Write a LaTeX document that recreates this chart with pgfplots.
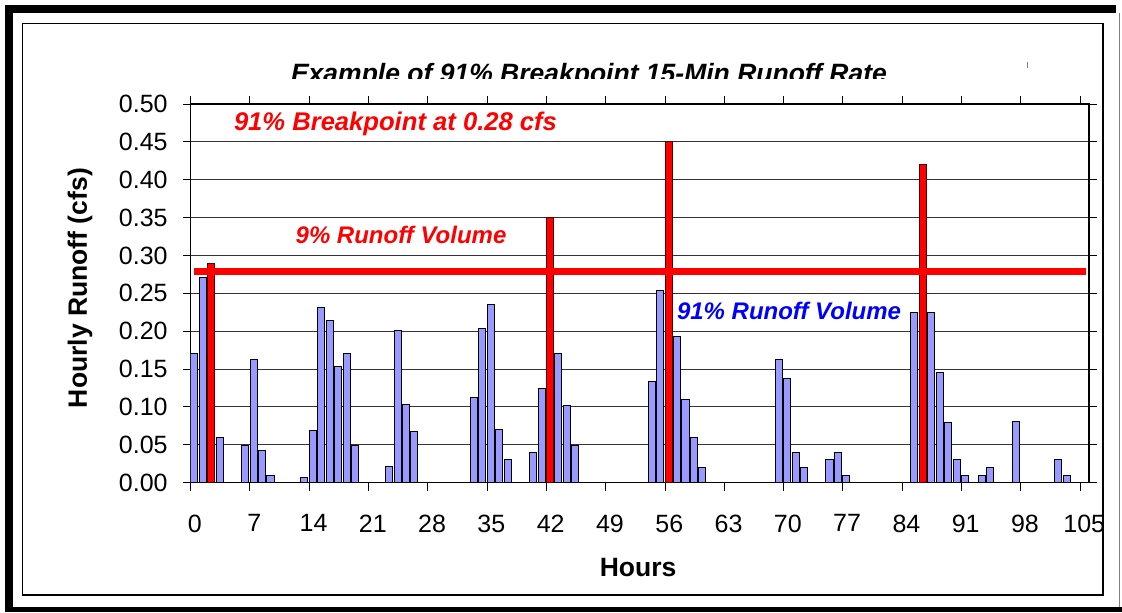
\documentclass[border=0pt]{standalone}
\usepackage{fontspec}
\setmainfont{Liberation Sans}
\usepackage{pgfplots}
\pgfplotsset{compat=1.18}
\usepackage{pgfplotstable}
\definecolor{barblue}{HTML}{9999FF}

\pgfplotstableread{
k v
0 0.170
1 0.271
3 0.060
6 0.049
7 0.163
8 0.043
9 0.010
13 0.007
14 0.069
15 0.231
16 0.214
17 0.154
18 0.170
19 0.049
23 0.022
24 0.201
25 0.103
26 0.068
33 0.112
34 0.204
35 0.235
36 0.070
37 0.030
40 0.040
41 0.125
43 0.171
44 0.102
45 0.049
54 0.133
55 0.254
57 0.193
58 0.110
59 0.060
60 0.020
69 0.163
70 0.137
71 0.040
72 0.020
75 0.030
76 0.040
77 0.010
85 0.225
87 0.225
88 0.146
89 0.080
90 0.030
91 0.010
93 0.010
94 0.020
97 0.081
102 0.030
103 0.010
}\bluedata

\pgfplotstableread{
k v
2 0.290
42 0.350
56 0.450
86 0.420
}\reddata

\begin{document}
\begin{tikzpicture}[x=0.5pt,y=0.5pt]
\path[use as bounding box] (0,0) rectangle (1122,612);
% outer frame
\fill[black] (5,0) rectangle (13,607);
\fill[black] (5,599) rectangle (1116,607);
\fill[black] (5,0) rectangle (1122,5.3);
\draw[gray, line width=0.5pt] (1119.5,5) -- (1119.5,599);
\draw[black, line width=0.65pt] (22.7,17) rectangle (1103,588.7);
\draw[gray, line width=0.4pt] (1027.3,550) -- (1027.3,544);
% title (clipped at the bottom as in the reference)
\begin{scope}
\clip (0,534) rectangle (1122,612);
\node[anchor=base, font=\bfseries\itshape\fontsize{13.25}{15}\selectfont] at (589,530) {Example of 91\% Breakpoint 15-Min Runoff Rate};
\end{scope}

\begin{axis}[
  at={(95.35pt,64.65pt)}, anchor=south west,
  scale only axis, width=449.15pt, height=189.35pt,
  xmin=0, xmax=106.06, ymin=0, ymax=0.5,
  xtick={0,7,...,105},
  ytick={0,0.05,0.1,0.15,0.2,0.25,0.3,0.35,0.4,0.45,0.5},
  /pgf/number format/assume math mode=true,
  yticklabel style={/pgf/number format/fixed, /pgf/number format/fixed zerofill, /pgf/number format/precision=2, xshift=-4pt},
  tick align=outside, major tick length=4pt,
  tick style={black, line width=0.5pt},
  ymajorgrids, grid style={black!80, line width=0.5pt},
  axis line style={black, line width=0.6pt},
  tick label style={font=\fontsize{12.5}{14}\selectfont},
  xticklabel style={xshift=2.12pt, yshift=-8.5pt},
  xlabel={Hours}, ylabel={Hourly Runoff (cfs)},
  label style={font=\bfseries\fontsize{13.25}{15}\selectfont},
  xlabel style={at={(axis description cs:0.498,-0.224)}, anchor=center},
  ylabel style={at={(axis description cs:-0.1232,0.514)}, anchor=center},
]
\addplot[ybar, bar width=0.83, bar shift=0.42, fill=barblue, draw=black, line width=0.5pt] table[x=k,y=v]{\bluedata};
\addplot[ybar, bar width=0.83, bar shift=0.42, fill=red, draw=black!70!red, line width=0.5pt] table[x=k,y=v]{\reddata};
\addplot[red, line width=3.5pt, no marks] coordinates {(0.39,0.279) (105.67,0.279)};
\node[font=\bfseries\itshape\fontsize{12.8}{14}\selectfont, text=red] at (axis cs:24.18,0.474) {91\% Breakpoint at 0.28 cfs};
\node[font=\bfseries\itshape\fontsize{12}{14}\selectfont, text=red] at (axis cs:24.83,0.327) {9\% Runoff Volume};
\node[font=\bfseries\itshape\fontsize{12}{14}\selectfont, text=blue] at (axis cs:70.64,0.227) {91\% Runoff Volume};
\end{axis}
\end{tikzpicture}
\end{document}
